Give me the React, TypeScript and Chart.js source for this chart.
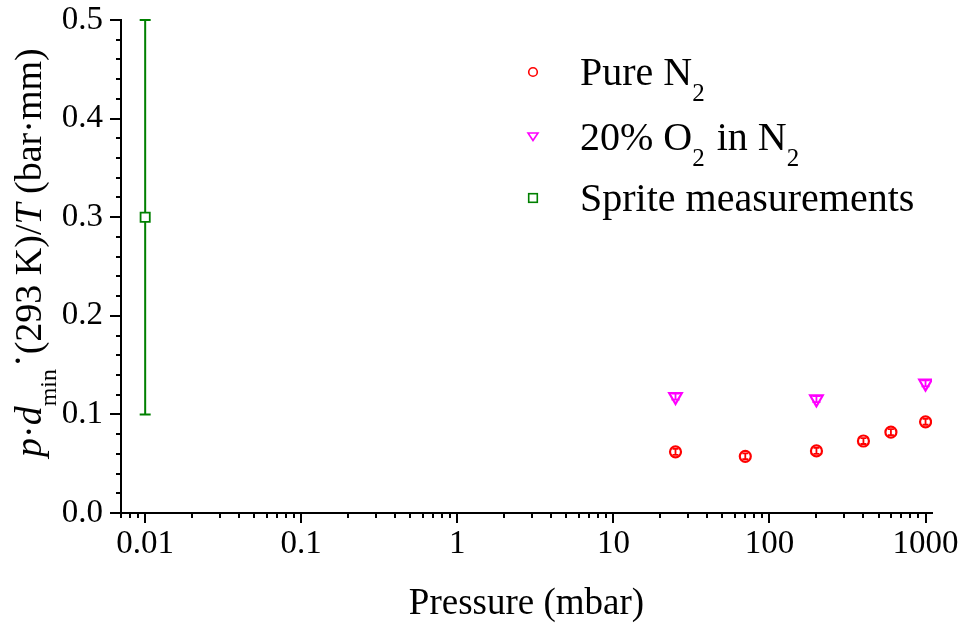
import React, { useEffect, useRef } from 'react';
import { Chart, registerables } from 'chart.js';

Chart.register(...registerables);

// ---- data ----
const n2Pressure = [25, 70, 200, 400, 600, 1000];
const n2Value = [0.062, 0.0575, 0.063, 0.073, 0.082, 0.0925];
const n2Err = [0.003, 0.003, 0.003, 0.003, 0.003, 0.003];

const o2Pressure = [25, 200, 1000];
const o2Value = [0.118, 0.1155, 0.1315];
const o2Err = [0.003, 0.003, 0.003];

const spritePressure = [0.01];
const spriteValue = [0.3];
const spriteErr = [0.2];

const xTickValues = [0.01, 0.1, 1, 10, 100, 1000];
const xTickLabels = ['0.01', '0.1', '1', '10', '100', '1000'];
const yTickValues = [0, 0.1, 0.2, 0.3, 0.4, 0.5];
const yTickLabels = ['0.0', '0.1', '0.2', '0.3', '0.4', '0.5'];

const xTitle = 'Pressure (mbar)';
// [text, style] style: n normal, i italic, s subscript, r raised
const yTitleParts: [string, string][] = [
  ['p', 'i'], ['·', 'n'], ['d', 'i'], ['min', 's'], ['·', 'r'], ['(293 K)/', 'n'], ['T', 'i'], [' (bar·mm)', 'n'],
];
const legendLabels: [string, string][][] = [
  [['Pure N', 'n'], ['2', 's']],
  [['20% O', 'n'], ['2', 's'], [' in N', 'n'], ['2', 's']],
  [['Sprite measurements', 'n']],
];

const FONT = "'Liberation Serif', 'Times New Roman', serif";
const RED = '#ff0000';
const MAGENTA = '#ff00ff';
const GREEN = '#008000';

function drawParts(ctx: CanvasRenderingContext2D, parts: [string, string][], x: number, y: number, size: number) {
  let cx = x;
  for (const [t, st] of parts) {
    let font = `${size}px ${FONT}`;
    let dy = 0;
    if (st === 'i') font = `italic ${size}px ${FONT}`;
    if (st === 's') { font = `${Math.round(size * 0.62)}px ${FONT}`; dy = size * 0.4; }
    if (st === 'r') { dy = -size * 0.3; }
    ctx.font = font;
    ctx.fillText(t, cx, y + dy);
    cx += ctx.measureText(t).width;
    if (st === 's') cx += 2;
  }
  return cx - x;
}

const customPlugin = {
  id: 'customDraw',
  beforeDatasetsDraw(chart: any) {
    const ctx = chart.ctx as CanvasRenderingContext2D;
    const ys = chart.scales.y;
    chart.data.datasets.forEach((ds: any, i: number) => {
      const meta = chart.getDatasetMeta(i);
      meta.data.forEach((el: any, j: number) => {
        const d = ds.data[j];
        const top = ys.getPixelForValue(d.y + d.err);
        const bot = ys.getPixelForValue(d.y - d.err);
        ctx.save();
        ctx.strokeStyle = ds.borderColor;
        ctx.lineWidth = ds.errWidth;
        ctx.beginPath();
        ctx.moveTo(el.x, top); ctx.lineTo(el.x, bot);
        ctx.moveTo(el.x - ds.capHalf, top); ctx.lineTo(el.x + ds.capHalf, top);
        ctx.moveTo(el.x - ds.capHalf, bot); ctx.lineTo(el.x + ds.capHalf, bot);
        ctx.stroke();
        ctx.restore();
      });
    });
  },
  afterDraw(chart: any) {
    const ctx = chart.ctx as CanvasRenderingContext2D;
    const xs = chart.scales.x;
    const ys = chart.scales.y;
    ctx.save();
    ctx.strokeStyle = '#000';
    ctx.lineWidth = 2;
    ctx.beginPath();
    for (let d = -3; d <= 3; d++) {
      for (let k = 1; k <= 9; k++) {
        const v = k * Math.pow(10, d);
        if (v < xs.min * 0.999 || v > xs.max) continue;
        const px = Math.round(xs.getPixelForValue(v));
        const len = k === 1 ? 10 : 5;
        ctx.moveTo(px, xs.top); ctx.lineTo(px, xs.top + len);
      }
    }
    for (let i = 0; i <= 25; i++) {
      const v = i / 50;
      const py = Math.round(ys.getPixelForValue(v));
      const len = i % 5 === 0 ? 11 : 5;
      ctx.moveTo(ys.right - len, py); ctx.lineTo(ys.right, py);
    }
    ctx.stroke();

    // legend
    const mx = 533;
    const rows = [72, 136.5, 198];
    ctx.lineWidth = 1.6;
    ctx.strokeStyle = RED;
    ctx.beginPath(); ctx.arc(mx, rows[0], 4.3, 0, Math.PI * 2); ctx.stroke();
    ctx.strokeStyle = MAGENTA;
    ctx.beginPath();
    ctx.moveTo(mx - 5, rows[1] - 3.5); ctx.lineTo(mx + 5, rows[1] - 3.5); ctx.lineTo(mx, rows[1] + 4); ctx.closePath(); ctx.stroke();
    ctx.strokeStyle = GREEN;
    ctx.strokeRect(mx - 4.3, rows[2] - 4.3, 8.6, 8.6);

    ctx.fillStyle = '#000';
    ctx.textBaseline = 'alphabetic';
    ctx.textAlign = 'left';
    legendLabels.forEach((parts, i) => {
      drawParts(ctx, parts, 580, rows[i] + 13, 40);
    });

    // y title
    ctx.translate(41, 457);
    ctx.rotate(-Math.PI / 2);
    drawParts(ctx, yTitleParts, 0, 0, 38);
    ctx.restore();
  },
};

export default function App() {
  const ref = useRef<HTMLCanvasElement>(null);
  useEffect(() => {
    document.body.style.margin = '0';
    const canvas = ref.current!;
    const chart = new Chart(canvas, {
      type: 'scatter',
      data: {
        datasets: [
          {
            label: 'Pure N2',
            data: n2Pressure.map((x, i) => ({ x, y: n2Value[i], err: n2Err[i] })),
            borderColor: RED,
            backgroundColor: 'rgba(0,0,0,0)',
            pointStyle: 'circle',
            pointRadius: 5.5,
            borderWidth: 2.2,
            errWidth: 1.8,
            capHalf: 3,
          } as any,
          {
            label: '20% O2 in N2',
            data: o2Pressure.map((x, i) => ({ x, y: o2Value[i], err: o2Err[i] })),
            borderColor: MAGENTA,
            backgroundColor: 'rgba(0,0,0,0)',
            pointStyle: 'triangle',
            rotation: 180,
            pointRadius: 7.3,
            borderWidth: 2.2,
            errWidth: 1.8,
            capHalf: 4,
          } as any,
          {
            label: 'Sprite measurements',
            data: spritePressure.map((x, i) => ({ x, y: spriteValue[i], err: spriteErr[i] })),
            borderColor: GREEN,
            backgroundColor: '#ffffff',
            pointStyle: 'rect',
            pointRadius: 6.5,
            borderWidth: 1.8,
            errWidth: 2,
            capHalf: 5.5,
          } as any,
        ],
      },
      options: {
        responsive: false,
        animation: false,
        devicePixelRatio: 1,
        layout: { padding: { top: 20, right: 31, left: 0, bottom: 0 } },
        plugins: { legend: { display: false }, tooltip: { enabled: false } },
        scales: {
          x: {
            type: 'logarithmic',
            min: 0.007,
            max: 1100,
            border: { display: true, color: '#000', width: 2 },
            grid: { display: true, drawOnChartArea: false, drawTicks: true, tickLength: 10, color: 'rgba(0,0,0,0)' },
            afterBuildTicks: (s: any) => { s.ticks = xTickValues.map((v) => ({ value: v })); },
            ticks: {
              autoSkip: false,
              maxRotation: 0,
              minRotation: 0,
              padding: 2,
              color: '#000',
              font: { family: FONT, size: 33 },
              callback: (_v: any, i: number) => xTickLabels[i],
            },
            afterFit: (s: any) => { s.height = 113; s.paddingLeft = 0; s.paddingRight = 0; },
            title: { display: true, text: xTitle, color: '#000', font: { family: FONT, size: 37 }, padding: { top: 0, bottom: 0 } },
          },
          y: {
            type: 'linear',
            min: 0,
            max: 0.5,
            border: { display: true, color: '#000', width: 2 },
            grid: { display: true, drawOnChartArea: false, drawTicks: true, tickLength: 11, color: 'rgba(0,0,0,0)' },
            afterBuildTicks: (s: any) => { s.ticks = yTickValues.map((v) => ({ value: v })); },
            ticks: {
              padding: 7,
              color: '#000',
              font: { family: FONT, size: 33 },
              callback: (_v: any, i: number) => yTickLabels[i],
            },
            afterFit: (s: any) => { s.width = 121; s.paddingTop = 0; s.paddingBottom = 0; },
          },
        },
      } as any,
      plugins: [customPlugin],
    });
    return () => chart.destroy();
  }, []);
  return <canvas ref={ref} width={963} height={626} style={{ display: 'block' }} />;
}
